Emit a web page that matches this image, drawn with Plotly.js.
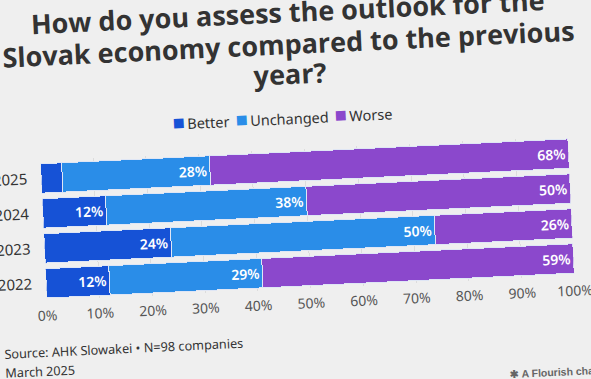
<!DOCTYPE html>
<html><head><meta charset="utf-8">
<script src="https://cdn.plot.ly/plotly-3.0.1.min.js"></script>
<style>
html,body{margin:0;padding:0;width:591px;height:379px;overflow:hidden;background:#efefef;}
#chart{position:absolute;left:-30px;top:-20px;width:660px;height:430px;transform-origin:325.5px 209.5px;transform:rotate(-2.7deg);}
</style></head><body>
<div id="chart"></div>
<script>
const years = ["2022","2023","2024","2025"];
const better = [12, 24, 12, 4];
const unchanged = [29, 50, 38, 28];
const worse = [59, 26, 50, 68];
const seriesNames = ["Better","Unchanged","Worse"];
const colors = ["#1652d6","#2a8de8","#8b48cc"];
const xTicks = [0,10,20,30,40,50,60,70,80,90,100];
const titleLines = ["How do you assess the outlook for the","Slovak economy compared to the previous","year?"];

function lbl(v){ return v.map(x => x >= 10 ? x + "%" : ""); }
const data = [better, unchanged, worse].map((vals, i) => ({
  type: "bar", orientation: "h", name: seriesNames[i],
  y: years, x: vals, text: lbl(vals),
  textposition: "inside", insidetextanchor: "end",
  textfont: {family: "Noto Sans", size: 14, color: "#ffffff", weight: 600},
  marker: {color: colors[i], line: {color: "#dfe6f5", width: 1}},
  hoverinfo: "none", cliponaxis: false, showlegend: false
}));

const legendText = seriesNames.map((n, i) =>
  "<span style='color:" + colors[i] + ";font-size:20px'>■</span>\u2009" + n).join("\u00a0\u2009");

const titleY = [1.979, 1.757, 1.539];
const annotations = titleLines.map((t, i) => ({
  text: t, xref: "paper", yref: "paper", x: 0.481, y: titleY[i], xanchor: "center", yanchor: "middle",
  showarrow: false, font: {family: "Open Sans", size: 27, color: "#333333", weight: 700}
}));
annotations.push(
  {text: legendText, xref: "paper", yref: "paper", x: 0.463, y: 1.235, xanchor: "center", yanchor: "middle", showarrow: false,
    font: {family: "Noto Sans", size: 14.5, color: "#333333"}},
  {text: "Source: AHK Slowakei • N=98 companies", xref: "paper", yref: "paper", x: -47/528, y: -(360-309)/140, xanchor: "left", yanchor: "middle", showarrow: false,
    font: {family: "Noto Sans", size: 12.7, color: "#333333"}},
  {text: "March 2025", xref: "paper", yref: "paper", x: -47/528, y: -(379-309)/140, xanchor: "left", yanchor: "middle", showarrow: false,
    font: {family: "Noto Sans", size: 12.7, color: "#333333"}},
  {text: "✱ A Flourish chart", xref: "paper", yref: "paper", x: (529-72)/528, y: -(404-309)/140, xanchor: "left", yanchor: "middle", showarrow: false,
    font: {family: "Liberation Sans", size: 10.5, color: "#666666", weight: 700}}
);

const layout = {
  width: 660, height: 430,
  paper_bgcolor: "#efefef", plot_bgcolor: "#efefef",
  barmode: "stack", bargap: 0.16,
  margin: {l: 72, r: 60, t: 169, b: 121},
  showlegend: false,
  xaxis: {range: [0, 100], tickvals: xTicks, ticktext: xTicks.map(t => t + "%"),
    showgrid: true, gridcolor: "#dcdcdc", zeroline: false, showline: false,
    ticks: "outside", ticklen: 2, tickcolor: "rgba(0,0,0,0)",
    tickfont: {family: "Noto Sans", size: 14, color: "#555555"}, fixedrange: true},
  yaxis: {categoryorder: "array", categoryarray: years, showgrid: false, zeroline: false, showline: false,
    ticks: "outside", ticklen: 10, tickcolor: "rgba(0,0,0,0)",
    tickfont: {family: "Noto Sans", size: 15, color: "#333333"}, fixedrange: true},
  annotations: annotations
};
Plotly.newPlot("chart", data, layout, {displayModeBar: false, staticPlot: true});
</script></body></html>
